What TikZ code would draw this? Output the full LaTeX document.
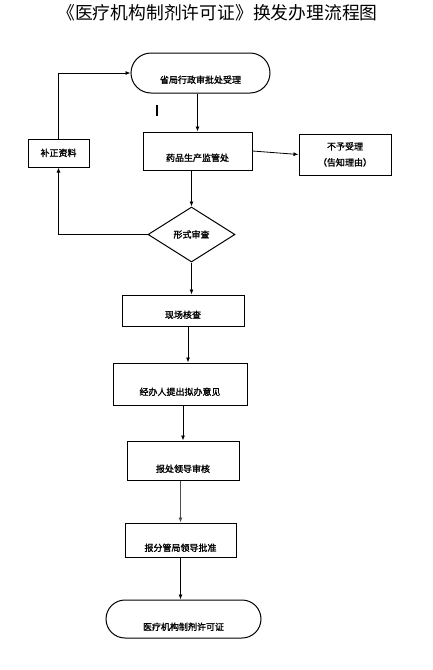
\documentclass[tikz,border=0pt]{standalone}
\usepackage{fontspec}
\newfontfamily\cjk{Noto Sans CJK SC}[AutoFakeBold=1.5]
\usetikzlibrary{arrows.meta, shapes.geometric}

\begin{document}
\begin{tikzpicture}[x=1pt, y=-1pt,
    font=\cjk\bfseries\fontsize{9}{16}\selectfont,
    box/.style={draw, line width=1pt, inner sep=2pt, text depth=1pt},
    term/.style={box, rounded corners=19pt},
    check/.style={draw, line width=1pt, diamond, inner sep=0pt},
    arr/.style={line width=.8pt, -{Latex[length=5pt, width=4pt]}},
    link/.style={line width=.8pt}
        ]

    \path [use as bounding box] (0,0) rectangle (432,670);

    \node (title) at (217.5,13) {\mdseries\fontsize{17.8}{18}\selectfont 《医疗机构制剂许可证》换发办理流程图};

    % main column
    \node [term, minimum width=139pt, minimum height=40pt, rounded corners=20pt, text height=21.4pt] (start) at (200.5,73) {省局行政审批处受理};
    \node [box, minimum width=109pt, minimum height=38pt, text height=21.4pt] (dept) at (197.5,151) {药品生产监管处};
    \node [box, minimum width=92pt, minimum height=41pt, align=center] (refuse) at (345,154.5) {不予受理\\（告知理由）};
    \node [box, minimum width=61pt, minimum height=28pt] (fix) at (58.5,153) {补正资料};
    \node [check, minimum width=87pt, minimum height=55pt] (exam) at (191.5,234.5) {形式审查};
    \node [box, minimum width=122pt, minimum height=31pt, text height=16.4pt] (site) at (183,310.5) {现场核查};
    \node [box, minimum width=134pt, minimum height=42pt, text height=23.4pt] (opin) at (180,384) {经办人提出拟办意见};
    \node [box, minimum width=112pt, minimum height=39pt, text height=24.4pt] (head) at (183,460.5) {报处领导审核};
    \node [box, minimum width=111pt, minimum height=34pt, text height=23.4pt] (chief) at (180.5,540) {报分管局领导批准};
    \node [term, minimum width=155pt, minimum height=38pt, text height=23.4pt] (cert) at (183.5,619) {医疗机构制剂许可证};

    % stray mark
    \draw [line width=1.6pt] (157,105) -- (157,116);

    \draw [arr] (start.south -| dept.north) -- (dept.north);
    \draw [arr] (dept.east) -- (refuse.west);
    \draw [arr] (dept.south -| exam.north) -- (exam.north);
    \draw [arr] (exam.south) -- (exam.south |- site.north);
    \draw [arr] ([xshift=5pt]site.south) -- ([xshift=5pt]site.south |- opin.north);
    \draw [arr] (opin.south -| head.north) -- (head.north);
    \draw [arr, black!70] (head.south -| chief.north) -- (chief.north);
    \draw [arr] (chief.south) -- (chief.south |- cert.north);

    % back loop
    \draw [arr] (exam.west) -| (fix.south);
    \draw [arr] (fix.north) |- (start.west);

\end{tikzpicture}
\end{document}
